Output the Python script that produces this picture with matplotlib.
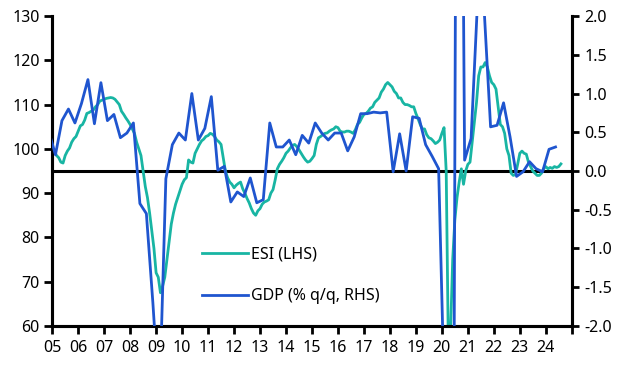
import numpy as np
import matplotlib.pyplot as plt

plt.rcParams['font.family'] = ['Noto Sans', 'DejaVu Sans']
plt.rcParams['axes.unicode_minus'] = False

# Economic sentiment indicator, monthly, Jan 2005 - Aug 2024
esi = [
    # 2005
    100.0, 99.5, 98.5, 98.0, 97.0, 96.8, 98.5, 99.5, 100.2, 101.5, 102.3, 102.8,
    # 2006
    104.0, 105.2, 105.5, 106.5, 108.0, 108.2, 108.5, 108.8, 109.5, 110.0, 110.8, 111.0,
    # 2007
    111.2, 111.4, 111.5, 111.6, 111.5, 111.2, 110.6, 110.0, 108.5, 107.8, 107.0, 106.3,
    # 2008
    105.5, 104.5, 103.5, 101.5, 100.0, 98.5, 95.0, 91.5, 89.0, 85.5, 81.5, 77.5,
    # 2009
    72.0, 71.0, 67.5, 69.0, 71.0, 75.0, 79.0, 83.0, 85.5, 87.5, 89.0, 90.5,
    # 2010
    92.0, 93.0, 93.5, 97.5, 97.0, 96.8, 99.0, 100.0, 101.0, 101.8, 102.2, 102.8,
    # 2011
    103.0, 103.5, 103.3, 102.8, 102.0, 101.6, 101.0, 98.0, 95.0, 93.5, 92.5, 92.0,
    # 2012
    91.2, 91.8, 92.2, 92.5, 91.0, 90.0, 88.8, 87.8, 86.5, 85.5, 85.0, 86.0,
    # 2013
    86.5, 87.5, 88.0, 88.2, 88.5, 90.0, 90.8, 93.0, 95.5, 96.5, 97.2, 98.0,
    # 2014
    99.0, 99.5, 100.2, 100.8, 101.0, 100.5, 99.8, 99.0, 98.2, 97.5, 97.0, 97.2,
    # 2015
    97.8, 98.5, 101.0, 102.5, 102.8, 103.2, 103.5, 103.6, 104.0, 104.3, 104.5, 105.0,
    # 2016
    104.8, 104.0, 103.8, 103.8, 104.0, 104.0, 103.8, 103.5, 104.3, 105.5, 106.0, 107.0,
    # 2017
    107.8, 108.0, 108.5, 109.2, 109.5, 110.5, 111.0, 111.5, 112.8, 113.5, 114.5, 115.0,
    # 2018
    114.5, 114.0, 113.0, 112.5, 111.5, 111.5, 110.5, 110.0, 110.0, 109.8, 109.5, 109.5,
    # 2019
    108.0, 106.8, 105.5, 104.5, 104.5, 103.2, 102.5, 102.3, 101.8, 101.2, 101.5, 102.0,
    # 2020
    103.5, 104.8, 95.0, 55.0, 58.5, 75.0, 84.0, 89.0, 92.5, 95.5, 92.0, 95.0,
    # 2021
    96.5, 97.0, 101.5, 106.0, 110.5, 116.5, 118.5, 118.5, 119.5, 118.5, 116.5, 115.0,
    # 2022
    114.5, 113.5, 109.5, 105.5, 105.0, 103.5, 100.0, 98.5, 94.5, 94.0, 94.2, 96.5,
    # 2023
    99.0, 99.5, 99.0, 98.8, 97.0, 96.0, 95.0, 94.5, 94.0, 94.0, 94.5, 95.5,
    # 2024
    96.0, 95.5, 95.8, 95.6, 96.0, 95.8, 96.0, 96.6,
]

# GDP, % q/q, 2004Q4 - 2024Q2
gdp = [
    0.50,
    0.21, 0.65, 0.80, 0.62,
    0.87, 1.18, 0.61, 1.14,
    0.65, 0.73, 0.43, 0.49,
    0.62, -0.42, -0.55, -1.70,
    -3.00, -0.10, 0.34, 0.49,
    0.40, 1.00, 0.40, 0.55,
    0.96, 0.01, 0.06, -0.40,
    -0.27, -0.33, -0.09, -0.41,
    -0.37, 0.62, 0.31, 0.31,
    0.40, 0.21, 0.46, 0.36,
    0.62, 0.49, 0.40, 0.49,
    0.49, 0.26, 0.44, 0.74,
    0.74, 0.76, 0.75, 0.76,
    -0.01, 0.48, 0.00, 0.70,
    0.68, 0.34, 0.19, 0.03,
    -3.30, -11.50, 12.00, 0.14,
    0.42, 2.20, 2.10, 0.57,
    0.59, 0.88, 0.44, -0.07,
    -0.01, 0.12, 0.03, -0.01,
    0.28, 0.31,
]

years = list(range(2005, 2026))
year_labels = [str(y)[2:] for y in years[:-1]] + [""]

t_esi = 2005 + np.arange(len(esi)) / 12
t_gdp = 2004.75 + 0.125 + np.arange(len(gdp)) * 0.25

teal = "#18B5A3"
blue = "#1F55CF"

fig, ax = plt.subplots(figsize=(6.29, 3.65), dpi=100)
fig.subplots_adjust(left=0.083, right=0.909, top=0.956, bottom=0.107)
ax2 = ax.twinx()

ax.axhline(95, color="black", lw=2.2, zorder=1)
l1, = ax.plot(t_esi, esi, color=teal, lw=2.0, label="ESI (LHS)", zorder=2)
l2, = ax2.plot(t_gdp, gdp, color=blue, lw=2.0, label="GDP (% q/q, RHS)", zorder=3)

ax.set_xlim(2005, 2025)
ax.set_ylim(60, 130)
ax2.set_ylim(-2, 2)
ax.set_yticks(range(60, 131, 10))
ax2.set_yticks(np.arange(-2, 2.01, 0.5))
ax2.set_yticklabels([f"{v:.1f}" for v in np.arange(-2, 2.01, 0.5)])
ax.set_xticks(years)
ax.set_xticklabels(year_labels)

for a in (ax, ax2):
    a.spines["top"].set_visible(False)
    for s in ("left", "right", "bottom"):
        a.spines[s].set_linewidth(2.2)
    a.tick_params(width=2, length=6, labelsize=11.5, colors="black", pad=3)
ax.tick_params(axis="x", length=6, pad=4)
ax2.tick_params(axis="y", length=5, pad=4)

ax2.legend(handles=[l1, l2], loc="upper left", bbox_to_anchor=(0.288, 0.255),
           frameon=False, fontsize=11.5, handlelength=2.9, handletextpad=0.15,
           labelspacing=1.6, borderaxespad=0, borderpad=0)

fig.savefig("out.png", dpi=100)
